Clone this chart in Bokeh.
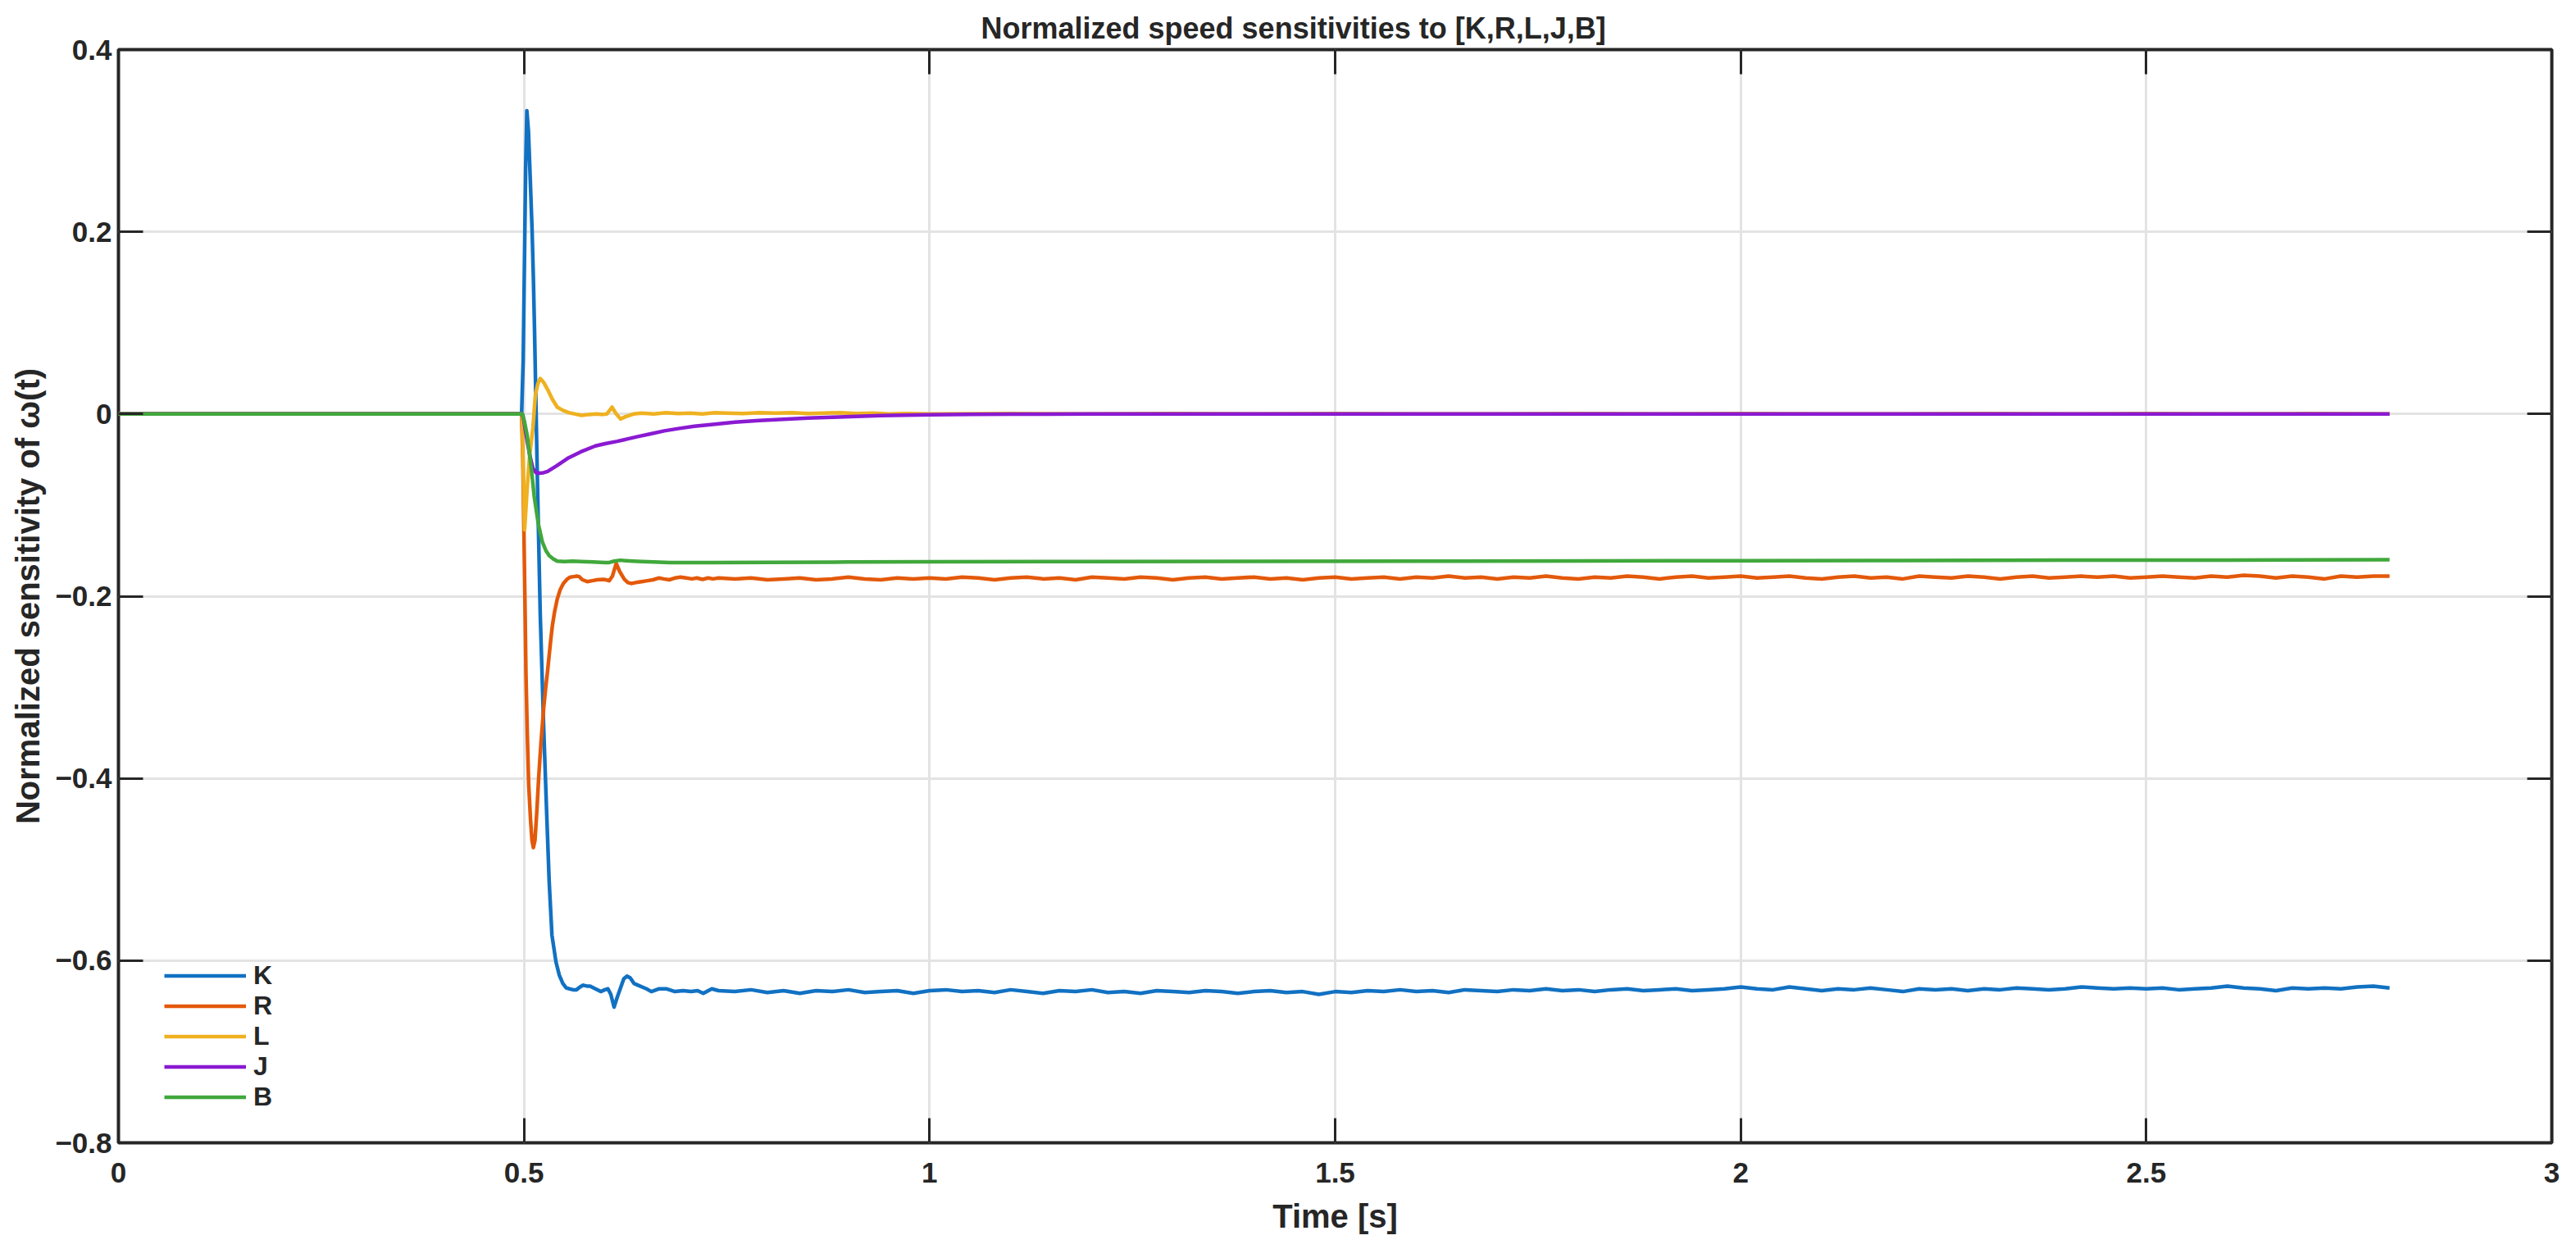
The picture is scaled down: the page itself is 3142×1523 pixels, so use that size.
import numpy as np
from bokeh.plotting import figure
from bokeh.models import LinearAxis, FixedTicker, CustomJSTickFormatter, Range1d
from bokeh.embed import file_html
from bokeh.resources import INLINE

# ---------------- data ----------------
series_names = ["K", "R", "L", "J", "B"]
colors = ["#1171C2", "#E3590A", "#EFB120", "#8A1AD2", "#41A83C"]

x_ticks = [0, 0.5, 1, 1.5, 2, 2.5, 3]
y_ticks = [-0.8, -0.6, -0.4, -0.2, 0, 0.2, 0.4]

# common steady-state time grid (0.76 ... 2.80 s, every 0.02 s)
t_steady = np.round(np.arange(0.76, 2.8001, 0.02), 2)

# K : transient
tK_tr = [0, 0.497, 0.499, 0.5, 0.501, 0.502, 0.5035, 0.5055, 0.508, 0.510, 0.5115,
         0.513, 0.5145, 0.516, 0.5176, 0.52, 0.5243, 0.528, 0.531, 0.5344, 0.5394,
         0.5435, 0.5478, 0.552, 0.556, 0.5605, 0.5647, 0.569, 0.573, 0.5775, 0.5815,
         0.588, 0.595, 0.5995, 0.6035, 0.607, 0.611, 0.615, 0.6186, 0.623, 0.627,
         0.631, 0.6355, 0.6405, 0.6456, 0.651, 0.657, 0.666, 0.676, 0.686, 0.696,
         0.706, 0.714, 0.721, 0.7315, 0.74]
vK_tr = [0, 0, 0.06, 0.13, 0.20, 0.27, 0.333, 0.31, 0.25, 0.20, 0.15,
         0.09, 0.02, -0.05, -0.12, -0.22, -0.346, -0.44, -0.513, -0.572, -0.6015,
         -0.616, -0.625, -0.630, -0.631, -0.632, -0.632, -0.629, -0.627, -0.628, -0.628,
         -0.631, -0.634, -0.632, -0.631, -0.637, -0.651, -0.640, -0.631, -0.620, -0.617,
         -0.619, -0.625, -0.627, -0.629, -0.631, -0.634, -0.631, -0.631, -0.634, -0.633,
         -0.634, -0.633, -0.636, -0.631, -0.633]
vK_ss = [-0.634, -0.632, -0.635, -0.633, -0.636, -0.633, -0.634, -0.632, -0.635, -0.634, -0.633, -0.636, -0.633,
         -0.632, -0.634, -0.633, -0.635, -0.632, -0.634, -0.636, -0.633, -0.634, -0.632, -0.635, -0.634, -0.636,
         -0.633, -0.634, -0.635, -0.633, -0.634, -0.636, -0.634, -0.633, -0.635, -0.634, -0.637, -0.634,
         -0.635, -0.633, -0.634, -0.632, -0.634, -0.633, -0.635, -0.632, -0.633, -0.634, -0.632, -0.633, -0.631,
         -0.633, -0.632, -0.634, -0.632, -0.631, -0.633, -0.632, -0.631, -0.633, -0.632, -0.631, -0.629,
         -0.631, -0.632, -0.629, -0.631, -0.633, -0.631, -0.632, -0.630, -0.632, -0.634, -0.631, -0.632, -0.631,
         -0.633, -0.631, -0.632, -0.630, -0.631, -0.632, -0.631, -0.629, -0.630, -0.631, -0.630, -0.631,
         -0.630, -0.632, -0.631, -0.630, -0.628, -0.630, -0.631, -0.633, -0.630, -0.631, -0.630, -0.631, -0.629,
         -0.628, -0.630]

# R : transient
tR_tr = [0, 0.497, 0.4985, 0.5, 0.5012, 0.5024, 0.504, 0.5057, 0.508, 0.5098, 0.5115,
         0.5135, 0.5158, 0.518, 0.5209, 0.5243, 0.5268, 0.5293, 0.5327, 0.535, 0.5377,
         0.541, 0.5445, 0.5485, 0.5529, 0.557, 0.5613, 0.565, 0.568, 0.572, 0.578,
         0.584, 0.590, 0.5977, 0.601, 0.605, 0.609, 0.6136, 0.618, 0.6237, 0.628,
         0.632, 0.638, 0.645, 0.652, 0.659, 0.666, 0.672, 0.679, 0.686, 0.693,
         0.700, 0.707, 0.713, 0.72, 0.727, 0.733, 0.74]
vR_tr = [0, 0, -0.05, -0.137, -0.21, -0.286, -0.35, -0.406, -0.445, -0.468, -0.476,
         -0.468, -0.436, -0.40, -0.361, -0.322, -0.30, -0.280, -0.250, -0.232, -0.217,
         -0.203, -0.193, -0.186, -0.1815, -0.179, -0.1785, -0.178, -0.1785, -0.182, -0.184,
         -0.183, -0.182, -0.1815, -0.182, -0.183, -0.178, -0.164, -0.173, -0.1815, -0.185,
         -0.186, -0.185, -0.184, -0.183, -0.182, -0.180, -0.181, -0.182, -0.180, -0.179,
         -0.180, -0.181, -0.180, -0.1815, -0.180, -0.181, -0.180]
vR_ss = [-0.181, -0.180, -0.182, -0.181, -0.180, -0.182, -0.181, -0.179, -0.181, -0.182, -0.180, -0.181, -0.180,
         -0.181, -0.179, -0.180, -0.182, -0.180, -0.179, -0.181, -0.180, -0.182, -0.179, -0.180, -0.181, -0.179,
         -0.180, -0.182, -0.180, -0.179, -0.181, -0.180, -0.179, -0.181, -0.180, -0.182, -0.180, -0.179,
         -0.181, -0.180, -0.179, -0.181, -0.179, -0.180, -0.178, -0.180, -0.179, -0.181, -0.179, -0.180, -0.178,
         -0.180, -0.181, -0.179, -0.180, -0.178, -0.179, -0.181, -0.179, -0.178, -0.180, -0.179, -0.178,
         -0.180, -0.179, -0.178, -0.180, -0.181, -0.179, -0.178, -0.180, -0.179, -0.181, -0.178, -0.179, -0.180,
         -0.178, -0.179, -0.181, -0.179, -0.178, -0.180, -0.179, -0.178, -0.179, -0.178, -0.180, -0.179,
         -0.178, -0.179, -0.180, -0.178, -0.179, -0.177, -0.178, -0.180, -0.178, -0.179, -0.181, -0.178, -0.179,
         -0.178, -0.178]

# L
tL = [0, 0.4975, 0.499, 0.5007, 0.504, 0.507, 0.511, 0.514, 0.517, 0.520, 0.524,
      0.529, 0.535, 0.541, 0.548, 0.555, 0.563, 0.571, 0.58, 0.59, 0.597,
      0.602, 0.6085, 0.613, 0.619, 0.625, 0.635, 0.645, 0.66, 0.675, 0.69,
      0.705, 0.72, 0.735, 0.75, 0.77, 0.79, 0.81, 0.83, 0.85, 0.87,
      0.89, 0.91, 0.93, 0.95, 0.97, 1.0, 1.1, 1.2, 1.3, 1.4,
      1.5, 1.6, 1.7, 1.8, 1.9, 2.0, 2.1, 2.2, 2.3, 2.4,
      2.5, 2.6, 2.7, 2.8]
vL = [0, 0, -0.06, -0.127, -0.08, -0.045, -0.015, 0.021, 0.033, 0.039, 0.035,
      0.027, 0.016, 0.0075, 0.004, 0.0015, 0.0, -0.0015, -0.0005, 0.0, -0.0005,
      0.0, 0.0075, 0.001, -0.0054, -0.003, 0.0, 0.001, 0.0, 0.0015, 0.0005,
      0.001, 0.0, 0.0015, 0.001, 0.0005, 0.0015, 0.001, 0.0015, 0.0005, 0.001,
      0.0015, 0.0005, 0.001, 0.0, 0.0005, 0.0, 0.0005, 0.0, 0.0005, 0.0,
      0.0005, 0.0, 0.0, 0.0005, 0.0, 0.0005, 0.0, 0.0, 0.0005, 0.0,
      0.0005, 0.0, 0.0005, 0.0]

# J
tJ = [0, 0.498, 0.5, 0.502, 0.504, 0.507, 0.511, 0.515, 0.519, 0.524, 0.529,
      0.54, 0.555, 0.57, 0.588, 0.60, 0.615, 0.627, 0.639, 0.655, 0.673,
      0.69, 0.71, 0.733, 0.76, 0.79, 0.82, 0.85, 0.88, 0.91, 0.94,
      0.97, 1.0, 1.05, 1.1, 1.2, 1.4, 1.6, 1.8, 2.0, 2.2,
      2.4, 2.6, 2.8]
vJ = [0, 0, -0.008, -0.02, -0.030, -0.045, -0.060, -0.0645, -0.065, -0.0645, -0.063,
      -0.057, -0.048, -0.0415, -0.035, -0.0325, -0.030, -0.0275, -0.025, -0.022, -0.0185,
      -0.016, -0.0135, -0.0114, -0.009, -0.0072, -0.0058, -0.0045, -0.0035, -0.0026, -0.0018,
      -0.0012, -0.0008, -0.0004, -0.0002, 0, 0, 0, 0, 0, 0,
      0, 0, 0]

# B
tB = [0, 0.498, 0.5007, 0.504, 0.509, 0.5125, 0.5175, 0.5226, 0.527, 0.531, 0.536,
      0.541, 0.55, 0.56, 0.571, 0.585, 0.6, 0.605, 0.611, 0.6186, 0.626,
      0.635, 0.6456, 0.66, 0.68, 0.70, 0.733, 0.8, 0.9, 1.0, 1.2,
      1.4, 1.6, 1.8, 2.0, 2.2, 2.4, 2.6, 2.8]
vB = [0, 0, -0.009, -0.024, -0.060, -0.090, -0.120, -0.1405, -0.150, -0.1555, -0.159,
      -0.1615, -0.162, -0.1615, -0.162, -0.1625, -0.163, -0.163, -0.1615, -0.1605, -0.161,
      -0.1615, -0.162, -0.1625, -0.163, -0.163, -0.163, -0.1628, -0.1625, -0.1622, -0.162,
      -0.1618, -0.1615, -0.1612, -0.161, -0.1608, -0.1605, -0.1603, -0.160]

tK = list(tK_tr) + list(t_steady)
vK = list(vK_tr) + list(vK_ss)
tR = list(tR_tr) + list(t_steady)
vR = list(vR_tr) + list(vR_ss)

xs = [tK, tR, tL, tJ, tB]
ys = [vK, vR, vL, vJ, vB]

# ---------------- figure ----------------
TXT = "#262626"
FONT = "Liberation Sans"

p = figure(width=3126, height=1507, output_backend="svg", toolbar_location=None,
           x_range=Range1d(0, 3), y_range=Range1d(-0.8, 0.4),
           min_border_left=144, min_border_right=14, min_border_top=60,
           min_border_bottom=109,
           title="Normalized speed sensitivities to [K,R,L,J,B]")
p.background_fill_color = "white"
p.border_fill_color = "white"
p.outline_line_color = TXT
p.outline_line_width = 4
p.outline_line_alpha = 1

# title centred on the whole figure (as in the reference), not on the axes
p.title.align = "left"
p.title.offset = 1052
p.title.text_font = FONT
p.title.text_font_size = "36px"
p.title.text_font_style = "bold"
p.title.text_color = TXT
p.title.standoff = 11

fmt_code = """
if (Math.abs(tick) < 1e-9) { return "0"; }
const s = (Math.round(tick * 10) / 10).toString();
return s.replace("-", "\\u2212");
"""

def style_axis(ax, ticks):
    ax.ticker = FixedTicker(ticks=ticks)
    ax.major_tick_in = 30
    ax.major_tick_out = 0
    ax.major_tick_line_color = TXT
    ax.major_tick_line_width = 3
    ax.minor_tick_line_color = None
    ax.axis_line_color = None
    ax.major_label_text_font = FONT
    ax.major_label_text_font_style = "bold"
    ax.major_label_text_color = TXT
    ax.axis_label_text_font = FONT
    ax.axis_label_text_font_style = "bold"
    ax.axis_label_text_color = TXT

style_axis(p.xaxis[0], x_ticks)
style_axis(p.yaxis[0], y_ticks)
p.xaxis[0].formatter = CustomJSTickFormatter(code=fmt_code)
p.yaxis[0].formatter = CustomJSTickFormatter(code=fmt_code)
p.xaxis[0].major_label_text_font_size = "35px"
p.yaxis[0].major_label_text_font_size = "35px"
p.xaxis[0].major_label_text_line_height = 1.0
p.xaxis[0].axis_label_text_line_height = 1.0
p.xaxis[0].major_label_standoff = 24
p.yaxis[0].major_label_standoff = 8
p.xaxis[0].axis_label = "Time [s]"
p.yaxis[0].axis_label = "Normalized sensitivity of \u03c9(t)"
p.xaxis[0].axis_label_text_font_size = "40px"
p.yaxis[0].axis_label_text_font_size = "40px"
p.xaxis[0].axis_label_standoff = 16
p.yaxis[0].axis_label_standoff = 8

for ax, loc, ticks in [(LinearAxis(), "above", x_ticks), (LinearAxis(), "right", y_ticks)]:
    style_axis(ax, ticks)
    ax.formatter = CustomJSTickFormatter(code='return "";')
    ax.major_label_text_font_size = "1px"
    ax.major_label_standoff = 0
    p.add_layout(ax, loc)

for g in (p.xgrid[0], p.ygrid[0]):
    g.grid_line_color = "#E3E3E3"
    g.grid_line_width = 3

for name, c, x, y in zip(series_names, colors, xs, ys):
    p.line(x, y, line_color=c, line_width=4.5, line_join="round", legend_label=name)

leg = p.legend[0]
leg.location = (56, 37)
leg.border_line_color = None
leg.background_fill_alpha = 0
leg.padding = 0
leg.margin = 0
leg.spacing = 0
leg.glyph_width = 100
leg.glyph_height = 37
leg.label_height = 37
leg.label_standoff = 9
leg.label_text_font = FONT
leg.label_text_font_size = "32px"
leg.label_text_font_style = "bold"
leg.label_text_color = TXT

open("out.html", "w").write(file_html(p, INLINE))
